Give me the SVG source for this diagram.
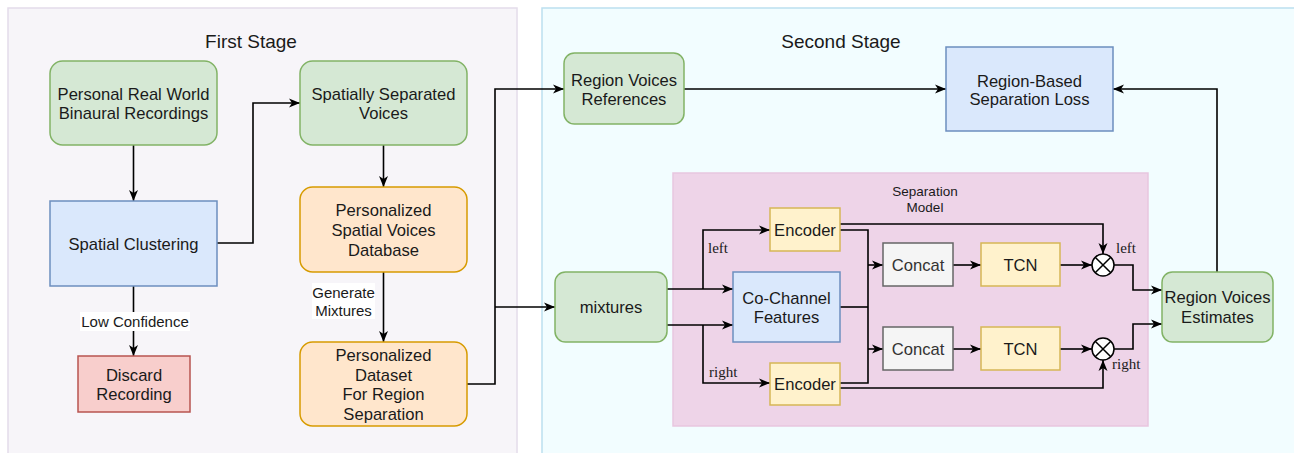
<svg xmlns="http://www.w3.org/2000/svg" width="1294" height="453" viewBox="0 0 1294 453">
<style>
text{font-family:"Liberation Sans",Arial,sans-serif;fill:#1a1a1a;text-anchor:middle}
.n{font-size:16.6px}
.t{font-size:19px}
.l{font-size:15px}
.s{font-size:13.5px}
.serif{font-family:"Liberation Serif","Times New Roman",serif;font-size:15px;text-anchor:start}
.green{fill:#d5e8d4;stroke:#82b366;stroke-width:1.5}
.blue{fill:#dae8fc;stroke:#6c8ebf;stroke-width:1.5}
.red{fill:#f8cecc;stroke:#b85450;stroke-width:1.5}
.orange{fill:#ffe6cc;stroke:#d79b00;stroke-width:1.5}
.yellow{fill:#fff2cc;stroke:#d6b656;stroke-width:1.5}
.gray{fill:#f5f5f5;stroke:#666666;stroke-width:1.5}
.e{fill:none;stroke:#000;stroke-width:1.6}
.a{marker-end:url(#arr)}
</style>
<defs>
<marker id="arr" markerUnits="userSpaceOnUse" markerWidth="12" markerHeight="10" viewBox="0 0 12 10" refX="11" refY="5" orient="auto">
<path d="M0,0.5 L11,5 L0,9.5 L3,5 Z" fill="#000"/>
</marker>
</defs>
<rect width="1294" height="453" fill="#ffffff"/>
<g id="panel-first">
<rect x="8" y="8" width="509" height="460" fill="#f7f5f9" stroke="#e4dcea" stroke-width="1.5"/>
<text class="t" x="251" y="48">First Stage</text>
</g>
<g id="panel-second">
<rect x="542" y="8" width="770" height="460" fill="#f2fdff" stroke="#bcdff0" stroke-width="1.5"/>
<text class="t" x="841" y="48">Second Stage</text>
</g>
<g id="separation-model">
<rect x="673" y="173" width="475" height="253" fill="#eed4e8" stroke="#e8c6df" stroke-width="1.5"/>
<text class="s" x="925" y="196">Separation</text>
<text class="s" x="925" y="212">Model</text>
</g>
<g id="connectors">
<path class="e a" d="M133.5,145 V201"/>
<path class="e a" d="M133.5,286 V356"/>
<path class="e a" d="M217,243 H253 V103 H300"/>
<path class="e a" d="M383.5,145 V187"/>
<path class="e a" d="M383.5,272 V342"/>
<path class="e a" d="M467,384 H495 V89 H564"/>
<path class="e a" d="M495,307 H555"/>
<path class="e a" d="M684,89 H946"/>
<path class="e a" d="M1217,272 V89 H1113"/>
<path class="e a" d="M667,289 H733"/>
<path class="e a" d="M667,325 H733"/>
<path class="e a" d="M703,289 V230 H770"/>
<path class="e a" d="M703,325 V383 H770"/>
<path class="e" d="M840,230 H868 V383 H840"/>
<path class="e" d="M840,307 H868"/>
<path class="e a" d="M868,265 H883"/>
<path class="e a" d="M868,349 H883"/>
<path class="e a" d="M953,265 H981"/>
<path class="e a" d="M953,349 H981"/>
<path class="e a" d="M1060,265 H1092"/>
<path class="e a" d="M1060,349 H1092"/>
<path class="e a" d="M840,224 H1103 V254"/>
<path class="e a" d="M840,388 H1103 V360"/>
<path class="e a" d="M1114,265 H1133 V290 H1162"/>
<path class="e a" d="M1114,349 H1133 V324 H1162"/>
<rect x="80" y="312" width="110" height="19" fill="#fff"/>
<text class="l" x="135" y="326.5">Low Confidence</text>
<rect x="312" y="283" width="63" height="36" fill="#fff"/>
<text class="l" x="343.5" y="298">Generate</text>
<text class="l" x="343.5" y="316">Mixtures</text>
<text class="serif" x="708" y="253">left</text>
<text class="serif" x="709" y="377">right</text>
<text class="serif" x="1116" y="253">left</text>
<text class="serif" x="1112" y="369">right</text>
</g>
<g id="personal-recordings">
<rect class="green" x="50" y="61" width="167" height="84" rx="12.6"/>
<text class="n" x="133.5" y="99.5">Personal Real World</text>
<text class="n" x="133.5" y="118.5">Binaural Recordings</text>
</g>
<g id="spatial-clustering">
<rect class="blue" x="50" y="201" width="167" height="85"/>
<text class="n" x="133.5" y="249.5">Spatial Clustering</text>
</g>
<g id="discard-recording">
<rect class="red" x="78" y="356" width="112" height="56"/>
<text class="n" x="134" y="380.5">Discard</text>
<text class="n" x="134" y="399.5">Recording</text>
</g>
<g id="spatially-separated">
<rect class="green" x="300" y="61" width="167" height="84" rx="12.6"/>
<text class="n" x="383.5" y="99.5">Spatially Separated</text>
<text class="n" x="383.5" y="118.5">Voices</text>
</g>
<g id="voices-database">
<rect class="orange" x="300" y="187" width="167" height="85" rx="12.6"/>
<text class="n" x="383.5" y="215.5">Personalized</text>
<text class="n" x="383.5" y="235.5">Spatial Voices</text>
<text class="n" x="383.5" y="255.5">Database</text>
</g>
<g id="personalized-dataset">
<rect class="orange" x="300" y="342" width="167" height="84" rx="12.6"/>
<text class="n" x="383.5" y="360.5">Personalized</text>
<text class="n" x="383.5" y="380.5">Dataset</text>
<text class="n" x="383.5" y="399.5">For Region</text>
<text class="n" x="383.5" y="419.5">Separation</text>
</g>
<g id="region-references">
<rect class="green" x="564" y="53" width="120" height="71" rx="10.5"/>
<text class="n" x="624" y="85.5">Region Voices</text>
<text class="n" x="624" y="104.5">References</text>
</g>
<g id="separation-loss">
<rect class="blue" x="946" y="47" width="167" height="84"/>
<text class="n" x="1029.5" y="86.5">Region-Based</text>
<text class="n" x="1029.5" y="104.5">Separation Loss</text>
</g>
<g id="mixtures">
<rect class="green" x="555" y="272" width="112" height="70" rx="10.5"/>
<text class="n" x="611" y="312.5">mixtures</text>
</g>
<g id="encoder-left">
<rect class="yellow" x="770" y="208" width="70" height="43"/>
<text class="n" x="805" y="235.5">Encoder</text>
</g>
<g id="co-channel">
<rect class="blue" x="733" y="272" width="107" height="70"/>
<text class="n" x="786.5" y="303.5">Co-Channel</text>
<text class="n" x="786.5" y="322.5">Features</text>
</g>
<g id="encoder-right">
<rect class="yellow" x="770" y="363" width="70" height="42"/>
<text class="n" x="805" y="389.5">Encoder</text>
</g>
<g id="concat-top">
<rect class="gray" x="883" y="243" width="70" height="43"/>
<text class="n" x="918" y="270.5" style="fill:#333">Concat</text>
</g>
<g id="concat-bottom">
<rect class="gray" x="883" y="327" width="70" height="43"/>
<text class="n" x="918" y="354.5" style="fill:#333">Concat</text>
</g>
<g id="tcn-top">
<rect class="yellow" x="981" y="243" width="79" height="43"/>
<text class="n" x="1020.5" y="270.5">TCN</text>
</g>
<g id="tcn-bottom">
<rect class="yellow" x="981" y="327" width="79" height="43"/>
<text class="n" x="1020.5" y="354.5">TCN</text>
</g>
<g id="mult-top">
<circle cx="1103" cy="265" r="11" fill="#fff" stroke="#000" stroke-width="1.5"/>
<path d="M1095.2,257.2 L1110.8,272.8 M1110.8,257.2 L1095.2,272.8" stroke="#000" stroke-width="1.5"/>
</g>
<g id="mult-bottom">
<circle cx="1103" cy="349" r="11" fill="#fff" stroke="#000" stroke-width="1.5"/>
<path d="M1095.2,341.2 L1110.8,356.8 M1110.8,341.2 L1095.2,356.8" stroke="#000" stroke-width="1.5"/>
</g>
<g id="region-estimates">
<rect class="green" x="1162" y="272" width="111" height="70" rx="10.5"/>
<text class="n" x="1217.5" y="302.5">Region Voices</text>
<text class="n" x="1217.5" y="322.5">Estimates</text>
</g>
</svg>
